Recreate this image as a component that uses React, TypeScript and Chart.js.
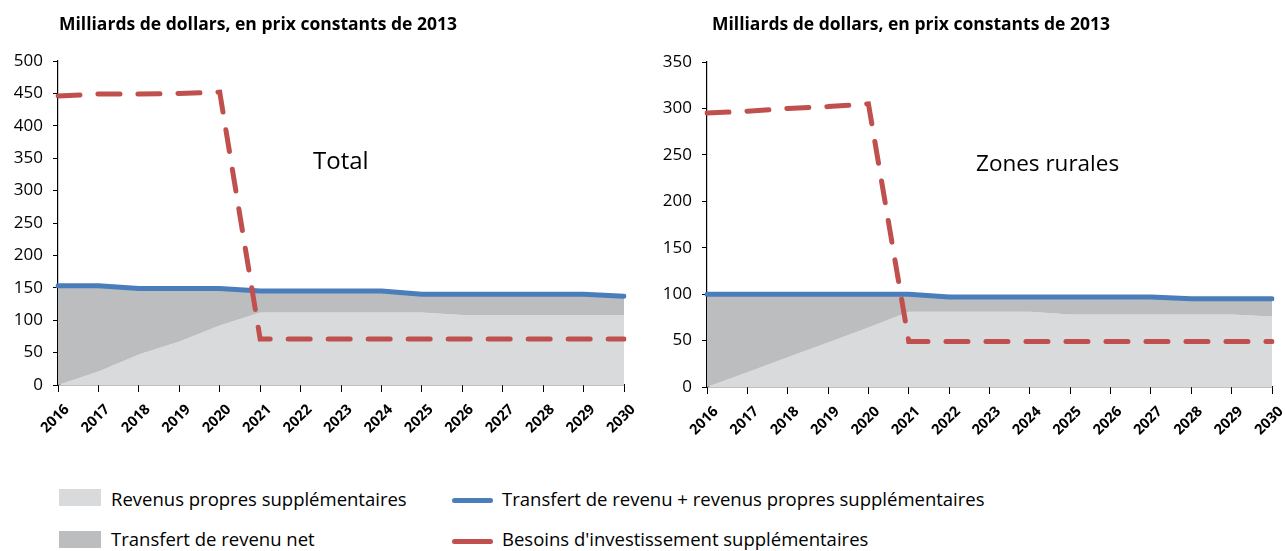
import React, { useEffect, useRef } from "react";
import { Chart, registerables } from "chart.js";

Chart.register(...registerables);

const years = ["2016", "2017", "2018", "2019", "2020", "2021", "2022", "2023", "2024", "2025", "2026", "2027", "2028", "2029", "2030"];

// Total
const totalOwnRevenue = [0, 21, 47, 67, 92, 112, 112, 112, 112, 112, 108, 108, 108, 108, 108];
const totalTransferPlusOwn = [153, 153, 149, 149, 149, 145, 145, 145, 145, 140, 140, 140, 140, 140, 137];
const totalInvestmentNeeds = [446, 449, 449, 450, 452, 71, 71, 71, 71, 71, 71, 71, 71, 71, 71];

// Zones rurales
const ruralOwnRevenue = [0, 16, 32, 48, 64, 81, 81, 81, 81, 78, 78, 78, 78, 78, 76];
const ruralTransferPlusOwn = [100, 100, 100, 100, 100, 100, 97, 97, 97, 97, 97, 97, 95, 95, 95];
const ruralInvestmentNeeds = [295, 297, 300, 302, 305, 49, 49, 49, 49, 49, 49, 49, 49, 49, 49];

const yTicksTotal = { max: 500, step: 50 };
const yTicksRural = { max: 350, step: 50 };

const titleText = "Milliards de dollars, en prix constants de 2013";
const legendLabels = [
  "Revenus propres supplémentaires",
  "Transfert de revenu net",
  "Transfert de revenu + revenus propres supplémentaires",
  "Besoins d'investissement supplémentaires",
];

const LIGHT = "#D9DADC";
const DARK = "#BCBDBF";
const BLUE = "#4A7EBB";
const RED = "#C0504D";
const FONT = "'Open Sans', 'DejaVu Sans', sans-serif";

type PanelProps = {
  own: number[];
  total: number[];
  needs: number[];
  yMax: number;
  yStep: number;
  yWidth: number;
  xHeight: number;
  padTop: number;
  padRight: number;
  width: number;
  height: number;
};

function Panel(p: PanelProps) {
  const ref = useRef<HTMLCanvasElement | null>(null);
  useEffect(() => {
    if (!ref.current) return;
    const chart = new Chart(ref.current, {
      type: "line",
      data: {
        labels: years,
        datasets: [
          {
            label: legendLabels[0],
            data: p.own,
            backgroundColor: LIGHT,
            borderWidth: 0,
            pointRadius: 0,
            fill: "origin",
            order: 4,
          },
          {
            label: legendLabels[1],
            data: p.total,
            backgroundColor: DARK,
            borderWidth: 0,
            pointRadius: 0,
            fill: "-1",
            order: 3,
          },
          {
            label: legendLabels[2],
            data: p.total,
            borderColor: BLUE,
            borderWidth: 5,
            borderCapStyle: "round",
            borderJoinStyle: "round",
            pointRadius: 0,
            fill: false,
            order: 2,
          },
          {
            label: legendLabels[3],
            data: p.needs,
            borderColor: RED,
            borderWidth: 5,
            borderDash: [22, 18],
            borderCapStyle: "round",
            pointRadius: 0,
            fill: false,
            order: 1,
          },
        ],
      },
      options: {
        animation: false,
        responsive: false,
        layout: { padding: { top: p.padTop, right: p.padRight, left: 0, bottom: 0 } },
        plugins: { legend: { display: false }, tooltip: { enabled: false }, title: { display: false } },
        elements: { line: { tension: 0 } },
        scales: {
          x: {
            offset: false,
            grid: { display: true, drawOnChartArea: false, drawTicks: true, tickLength: 7, color: "#000" },
            border: { color: "#000", width: 1.2 },
            ticks: {
              color: "#000",
              minRotation: 45,
              maxRotation: 45,
              autoSkip: false,
              padding: 9,
              labelOffset: 9,
              font: { family: FONT, size: 14.5, weight: "bold" },
            },
            afterFit: (s: any) => {
              s.height = p.xHeight;
              s.paddingLeft = 0;
              s.paddingRight = 0;
            },
          },
          y: {
            min: 0,
            max: p.yMax,
            grid: { display: true, drawOnChartArea: false, drawTicks: true, tickLength: 5, color: "#000" },
            border: { color: "#000", width: 1.2 },
            ticks: {
              stepSize: p.yStep,
              color: "#000",
              padding: 10,
              font: { family: FONT, size: 17 },
            },
            afterFit: (s: any) => {
              s.width = p.yWidth;
              s.paddingTop = 0;
              s.paddingBottom = 0;
            },
          },
        },
      },
    });
    return () => chart.destroy();
  }, []);
  return <canvas ref={ref} width={p.width} height={p.height} style={{ display: "block", width: p.width, height: p.height }} />;
}

const textBase: React.CSSProperties = { position: "absolute", fontFamily: FONT, color: "#000", whiteSpace: "nowrap", lineHeight: 1 };

export default function App() {
  return (
    <div style={{ position: "fixed", left: 0, top: 0, width: 1285, height: 551, background: "#fff", overflow: "hidden" }}>
      <div style={{ position: "absolute", left: 0, top: 0 }}>
        <Panel own={totalOwnRevenue} total={totalTransferPlusOwn} needs={totalInvestmentNeeds}
          yMax={yTicksTotal.max} yStep={yTicksTotal.step} yWidth={58} xHeight={75} padTop={61} padRight={16} width={640} height={460} />
      </div>
      <div style={{ position: "absolute", left: 650, top: 0 }}>
        <Panel own={ruralOwnRevenue} total={ruralTransferPlusOwn} needs={ruralInvestmentNeeds}
          yMax={yTicksRural.max} yStep={yTicksRural.step} yWidth={57} xHeight={73} padTop={62} padRight={13} width={635} height={460} />
      </div>
      <div style={{ ...textBase, left: 59, top: 14.5, fontSize: 17.5, fontWeight: 700 }}>{titleText}</div>
      <div style={{ ...textBase, left: 712, top: 14.5, fontSize: 17.5, fontWeight: 700 }}>{titleText}</div>
      <div style={{ ...textBase, left: 313, top: 148, fontSize: 24 }}>Total</div>
      <div style={{ ...textBase, left: 976, top: 152, fontSize: 22.5 }}>Zones rurales</div>

      <div style={{ position: "absolute", left: 59, top: 489, width: 42, height: 17, background: LIGHT }} />
      <div style={{ ...textBase, left: 111, top: 489.5, fontSize: 18.5 }}>{legendLabels[0]}</div>
      <div style={{ position: "absolute", left: 59, top: 531, width: 42, height: 17, background: DARK }} />
      <div style={{ ...textBase, left: 111, top: 530, fontSize: 18.5 }}>{legendLabels[1]}</div>

      <div style={{ position: "absolute", left: 452, top: 497.5, width: 41, height: 5, borderRadius: 3, background: BLUE }} />
      <div style={{ ...textBase, left: 502, top: 489.5, fontSize: 18.5 }}>{legendLabels[2]}</div>
      <div style={{ position: "absolute", left: 452, top: 539, width: 41, height: 5, borderRadius: 3, background: RED }} />
      <div style={{ ...textBase, left: 502, top: 530, fontSize: 18.5 }}>{legendLabels[3]}</div>
    </div>
  );
}
